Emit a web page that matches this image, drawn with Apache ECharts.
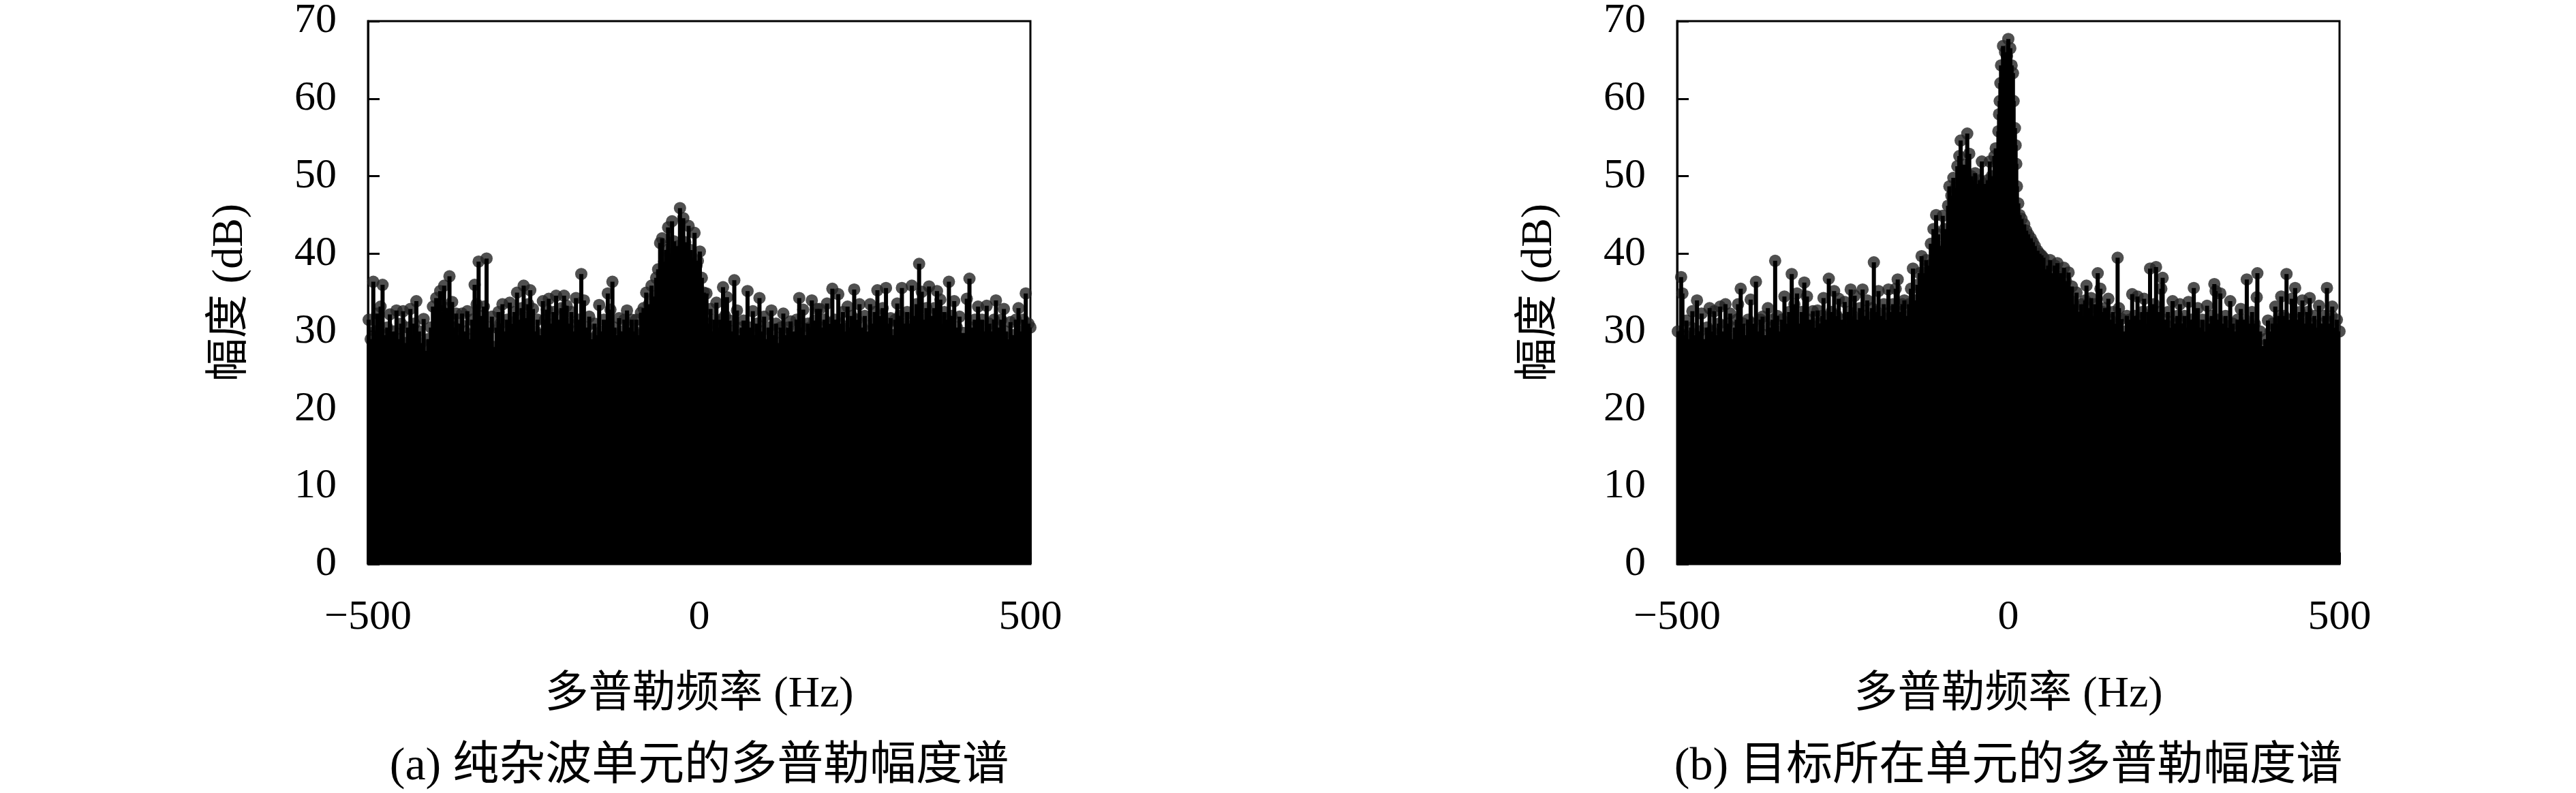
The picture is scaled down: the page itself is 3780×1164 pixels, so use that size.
<!DOCTYPE html>
<html>
<head>
<meta charset="utf-8">
<script src="https://cdn.jsdelivr.net/npm/echarts@6/dist/echarts.min.js"></script>
<style>
  html, body { margin: 0; padding: 0; background: #fff; }
  #main { width: 3780px; height: 1164px; }
</style>
</head>
<body>
<div id="main"></div>
<script>
// [多普勒频率 Hz, 幅度 dB]
const clutterCell = [
  [-499,31.5],[-496,29],[-492,36.4],[-489,30],[-486,32.3],[-483,28.5],[-481,33.2],[-478,36.0],[-475,29.5],[-471,30.5],
  [-467,32.2],[-464,28],[-461,30],[-457,32.7],[-454,29],[-450,31],[-447,32.6],[-443,28.5],[-440,30.5],[-436,32.9],
  [-433,29.5],[-430,31],[-427,33.9],[-423,30],[-420,28.5],[-416,31.6],[-412,27.5],[-409,29],[-405,30.5],[-402,33.2],
  [-397,34.3],[-394,31],[-391,35.2],[-388,32.5],[-385,35.9],[-381,33],[-377,37.1],[-373,33.8],[-370,30.5],[-367,32.3],
  [-364,29.5],[-361,31],[-358,32.3],[-354,30],[-350,32.6],[-347,29],[-343,31.5],[-339,36.0],[-336,33.5],[-333,39.0],
  [-329,32],[-325,33.2],[-321,39.4],[-317,30.5],[-313,31.9],[-310,28],[-306,30.5],[-303,32.5],[-300,31],
  [-297,33.5],[-293,30],[-290,31.5],[-286,33.7],[-282,31],[-279,32.5],[-275,35.0],[-272,31.5],[-268,33],[-265,35.9],
  [-261,31.7],[-258,33.5],[-255,35.3],[-251,32.9],[-247,30],[-244,31.5],[-240,29.5],[-236,33.9],[-233,31.5],[-230,32.8],
  [-227,34.2],[-223,31],[-220,32.5],[-216,34.6],[-212,31.5],[-208,33],[-204,34.6],[-200,33.3],
  [-196,31],[-193,32.5],[-189,30],[-186,34.3],[-182,31.5],[-178,37.4],[-174,34.0],[-170,30.5],[-166,31.9],[-162,29],
  [-158,31],[-155,29.5],[-151,33.4],[-148,30],[-144,31.5],[-141,29],[-138,34.9],[-134,32.8],[-131,36.4],[-128,30.5],
  [-124,29.5],[-121,31.7],[-117,30],[-113,31.5],[-109,32.7],[-105,30.5],[-102,31.5],
  [-98,30],[-95,31.5],[-92,29.5],[-88,32.4],[-84,33],[-80,35.0],[-76,33.5],[-72,35.9],[-68,34.5],[-65,36.9],
  [-62,38.0],[-59,41.4],[-56,42.0],[-53,39],[-50,40.5],[-47,43.4],[-44,40],[-41,44.2],[-38,41.6],[-35,40.0],
  [-32,41],[-29,45.9],[-27,40.5],[-24,44.6],[-21,41.5],[-18,39.5],[-16,43.6],[-13,40.5],[-10,39.5],[-7,42.7],
  [-4,38.5],[-2,39.1],[1,40.3],
  [4,36.9],[7,35],[11,34.9],[14,31],[17,32.9],[20,30],[23,31.5],[26,33.7],[29,30.5],[32,31.5],
  [36,35.7],[39,32],[42,34.4],[46,31.4],[49,30],[53,36.6],[57,32.7],[60,29.5],[64,30.5],[67,31.4],
  [70,29],[73,35.2],[77,30.5],[81,32.6],[84,29.5],[87,31],[91,34.3],[94,30],[98,31.9],
  [101,29],[105,30.5],[109,32.7],[112,29.5],[116,31],[119,28.5],[123,30.5],[127,32.3],[130,29.5],[134,30.5],
  [138,31.3],[141,28.5],[144,30],[147,31.5],[151,34.3],[154,30.5],[157,32.8],[161,29.5],[164,31],[167,30.5],
  [170,34.0],[174,31.4],[178,32.9],[182,32.9],[186,30.5],[189,31.5],[193,33.6],[197,31],
  [201,35.5],[205,31.5],[210,34.8],[213,31],[217,32.5],[220,30],[224,33.2],[227,30.5],[230,32],[234,35.4],
  [238,31.5],[242,33.5],[246,30.5],[250,32],[254,30],[258,33.5],[262,31],[265,32.5],[269,35.3],[273,32],
  [277,33],[282,35.6],[285,31],[289,31.7],[292,29.5],[296,31.5],[299,33.6],
  [303,32],[306,35.6],[310,31],[314,32.5],[317,31],[321,35.9],[325,32],[328,33.5],[332,38.7],[336,35.1],
  [340,31.5],[343,33],[347,35.8],[351,32],[355,33],[359,35.2],[364,34.1],[367,31],[370,32.5],[374,31.5],
  [377,36.4],[381,32],[385,33.9],[389,30.5],[393,31.9],[396,28.5],[399,29.8],[404,34.2],[408,36.8],[412,30.5],
  [416,31.5],[421,33.2],[424,30],[427,31.5],[431,30],[434,33.3],[438,31],[441,30],[445,31.5],[448,34.0],
  [452,30.5],[456,31.5],[460,32.9],[463,30],[467,29],[470,31.2],[474,29.5],[478,31.5],[482,33.0],[485,30],
  [489,31.5],[493,34.9],[497,31],[500,30.5]
];

const targetCell = [
  [-499,30],[-494,37.0],[-492,34.9],[-489,29.5],[-486,31.4],[-482,29],[-479,30.5],[-477,32.6],[-473,29.5],[-470,34.0],
  [-466,30],[-463,32.3],[-459,29],[-455,30.5],[-451,33.0],[-448,30],[-444,32.6],[-440,29.5],[-437,31],[-435,33.2],
  [-431,30],[-427,33.5],[-424,31],[-420,32.3],[-417,29],[-413,30.5],[-410,31.5],[-408,33.5],[-404,35.5],[-400,31],
  [-397,29.5],[-393,31.5],[-389,34.1],[-386,31],[-381,36.4],[-378,30],[-374,31.5],[-371,31.9],[-367,29.5],[-363,33.0],
  [-360,30.5],[-356,31.5],[-352,39.1],[-349,32.0],[-345,30],[-342,31.5],[-338,34.5],[-334,31],[-331,32.5],[-327,37.4],
  [-323,33.5],[-319,34.9],[-315,31],[-312,32.5],[-308,36.3],[-304,34.5],[-300,31.5],
  [-295,32.6],[-291,30.5],[-288,32.7],[-284,31],[-281,32],[-279,34.3],[-275,31.5],[-271,36.8],[-267,32.5],[-263,35.2],
  [-259,32],[-256,34.2],[-252,31.5],[-247,33.8],[-244,31],[-241,32.5],[-238,35.4],[-235,32],[-232,34.6],[-228,31.5],
  [-224,33],[-220,35.4],[-216,32],[-213,34.0],[-209,31.5],[-206,33],[-203,38.9],[-199,32.5],
  [-196,35.2],[-192,32],[-188,33.5],[-185,31.5],[-181,35.4],[-178,32.5],[-174,33.5],[-170,35.5],[-167,36.7],[-163,32.5],
  [-160,33.5],[-157,34.0],[-153,32],[-150,33.5],[-147,35.5],[-144,38.1],[-140,34],[-137,36],[-134,37.5],[-131,39.7],
  [-127,37.5],[-124,39.2],[-120,38.5],[-117,41.3],[-113,43.2],[-109,45.0],[-106,42.5],[-103,41],
  [-99,44.9],[-96,43.2],[-94,40.8],[-91,46.2],[-89,48.7],[-86,47.5],[-83,49.8],[-80,48.5],[-77,51.3],[-74,52.6],
  [-72,54.6],[-69,50.5],[-66,51.5],[-62,55.5],[-59,52.9],[-56,50],[-53,49.5],[-50,50.4],[-47,49],[-43,49.5],
  [-40,51.9],[-37,49],[-34,48.5],[-31,49.5],[-28,51.9],[-25,50],[-21,52.6],[-19,53.6],[-17,52],[-15,55.8],
  [-14,58.0],[-13,59.7],[-12,62.0],[-11,64.3],[-8,66.8],[-5,66],[-2,65.5],[0,67.7],
  [3,66.5],[5,64.3],[7,63.3],[8,59.7],[10,56.2],[11,54.0],[12,51.6],[13,48.7],[15,46.5],[17,45.0],
  [20,44.5],[24,43.8],[27,43],[30,42.5],[34,42.0],[37,41.5],[40,41],[44,40.4],[47,40],[50,39.8],
  [53,39.5],[56,38],[60,38.5],[63,39.2],[66,37.5],[70,38.5],[74,38.8],[77,37],[80,37.5],[84,38.2],
  [87,36.5],[91,37.6],[93,34],[96,35.8],[99,33.5],
  [103,35.0],[106,32.5],[110,33.5],[113,32],[116,34],[118,35.9],[122,33],[125,34.3],[128,32],[131,33.5],
  [135,37.5],[139,35.5],[142,32.5],[146,33],[151,34.2],[154,31.5],[158,32.5],[162,31],[165,39.5],[167,33.0],
  [171,31.6],[175,30],[179,32],[183,31.5],[187,34.8],[191,32],[195,34.5],[198,31.5],
  [202,32.5],[205,34.2],[209,31],[211,32.5],[214,38.1],[218,32],[220,33.5],[223,38.3],[227,32.5],[231,35.5],
  [233,36.9],[237,31.5],[241,32.5],[244,30.5],[248,33.9],[252,31],[255,32],[259,33.5],[263,31],[266,32],
  [269,30.5],[272,33.8],[276,31.5],[280,35.6],[283,31],[286,33.0],[290,30.5],[293,31.5],[297,30],[300,33.3],
  [304,31],[307,32],[311,36.1],[313,35.2],[317,31.5],[320,34.9],[324,31],[328,32],[331,30.5],[335,33.9],
  [339,31],[342,30],[346,31.5],[351,32.9],[354,30.5],[357,31.5],[360,36.7],[364,31],[368,32.5],[372,31],
  [375,34.4],[376,37.5],[380,30],[384,28.1],[388,29],[392,31.4],[396,30],[399,31],[403,33.2],[406,31],
  [409,32],[412,34.5],[416,32],[420,37.4],[424,31.5],[428,34.2],[433,35.6],[436,31.5],[440,32.5],[444,34.0],
  [448,31],[451,32.5],[455,34.3],[459,31],[462,32],[466,30.5],[469,33.3],[473,31],[477,32],[481,35.6],
  [485,31],[488,32.0],[489,33.2],[493,30.5],[496,31.5],[500,30]
];

const panelTitles = ['(a) 纯杂波单元的多普勒幅度谱', '(b) 目标所在单元的多普勒幅度谱'];
const xName = '多普勒频率 (Hz)';
const yName = '幅度 (dB)';

const FONT = "'Liberation Serif', 'Noto Sans CJK SC', serif";
const panels = [
  { left: 540, data: clutterCell },
  { left: 2461, data: targetCell },
];
const PLOT_W = 972;
const PLOT_TOP = 23;
const PLOT_H = 805;

const chart = echarts.init(document.getElementById('main'));

const axisText = { color: '#000', fontFamily: FONT, fontSize: 62 };
const tickStyle = { show: true, inside: true, length: 17, lineStyle: { color: '#000', width: 3 } };

chart.setOption({
  animation: false,
  backgroundColor: '#fff',
  grid: panels.map((p) => ({
    left: p.left,
    top: PLOT_TOP,
    width: PLOT_W,
    height: PLOT_H,
    show: true,
    borderColor: '#000',
    borderWidth: 3,
    backgroundColor: 'transparent',
  })),
  xAxis: panels.map((p, i) => ({
    type: 'value',
    gridIndex: i,
    min: -500,
    max: 500,
    interval: 500,
    name: xName,
    nameLocation: 'middle',
    nameGap: 160,
    nameTextStyle: { color: '#000', fontFamily: FONT, fontSize: 64 },
    axisLine: { show: false, onZero: false },
    axisTick: tickStyle,
    splitLine: { show: false },
    axisLabel: {
      ...axisText,
      margin: 48,
      formatter: (v) => String(v).replace('-', '\u2212'),
    },
  })),
  yAxis: panels.map((p, i) => ({
    type: 'value',
    gridIndex: i,
    min: 0,
    max: 70,
    interval: 10,
    name: yName,
    nameLocation: 'middle',
    nameGap: 170,
    nameTextStyle: { color: '#000', fontFamily: FONT, fontSize: 64 },
    axisLine: { show: true, onZero: false, lineStyle: { color: '#000', width: 3 } },
    axisTick: tickStyle,
    splitLine: { show: false },
    axisLabel: { ...axisText, margin: 46 },
  })),
  series: panels.flatMap((p, i) => [
    {
      type: 'scatter',
      xAxisIndex: i,
      yAxisIndex: i,
      data: p.data,
      symbol: 'circle',
      symbolSize: 18,
      itemStyle: { color: '#242424' },
      z: 2,
    },
    {
      type: 'bar',
      xAxisIndex: i,
      yAxisIndex: i,
      data: p.data,
      barWidth: 6,
      itemStyle: { color: '#000' },
      z: 3,
    },
  ]),
  graphic: panels.map((p, i) => ({
    type: 'text',
    x: p.left + PLOT_W / 2,
    y: 1126,
    style: {
      text: panelTitles[i],
      fontFamily: FONT,
      fontSize: 68,
      fill: '#000',
      align: 'center',
      verticalAlign: 'middle',
    },
  })),
});
</script>
</body>
</html>
